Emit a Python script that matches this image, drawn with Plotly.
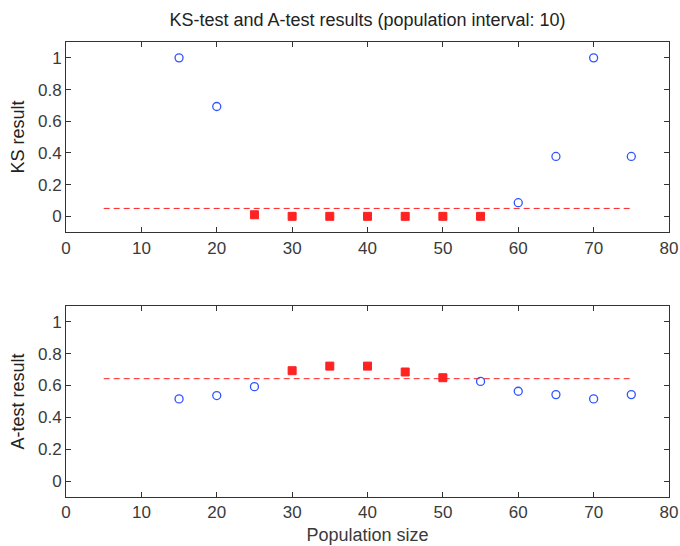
import plotly.graph_objects as go

# Data
ks_sig_x = [25, 30, 35, 40, 45, 50, 55]
ks_sig_y = [0.01, 0.0, 0.0, 0.0, 0.0, 0.0, 0.0]
ks_ns_x = [15, 20, 60, 65, 70, 75]
ks_ns_y = [1.0, 0.693, 0.086, 0.378, 1.0, 0.378]
ks_thresh_x = [5, 75]
ks_thresh_y = [0.05, 0.05]

a_sig_x = [30, 35, 40, 45, 50]
a_sig_y = [0.693, 0.722, 0.722, 0.685, 0.649]
a_ns_x = [15, 20, 25, 55, 60, 65, 70, 75]
a_ns_y = [0.516, 0.537, 0.593, 0.626, 0.564, 0.543, 0.516, 0.543]
a_thresh_x = [5, 75]
a_thresh_y = [0.643, 0.643]

x_ticks = [0, 10, 20, 30, 40, 50, 60, 70, 80]
y_ticks = [0, 0.2, 0.4, 0.6, 0.8, 1]
y_tick_text = ["0", "0.2", "0.4", "0.6", "0.8", "1"]

BLUE = "#2f55ff"
RED = "#ff2222"
FONT = "Liberation Sans"

fig = go.Figure()

def add_panel(xa, ya, thx, thy, nsx, nsy, sx, sy):
    fig.add_trace(go.Scatter(x=thx, y=thy, mode="lines", xaxis=xa, yaxis=ya,
                             line=dict(color=RED, width=1, dash="6px,4px"),
                             showlegend=False, hoverinfo="skip"))
    fig.add_trace(go.Scatter(x=nsx, y=nsy, mode="markers", xaxis=xa, yaxis=ya,
                             marker=dict(symbol="circle-open", size=8, color=BLUE,
                                         line=dict(width=1.3, color=BLUE)),
                             showlegend=False))
    fig.add_trace(go.Scatter(x=sx, y=sy, mode="markers", xaxis=xa, yaxis=ya,
                             marker=dict(symbol="square", size=8, color=RED,
                                         line=dict(width=1, color=RED)),
                             showlegend=False))

add_panel("x", "y", ks_thresh_x, ks_thresh_y, ks_ns_x, ks_ns_y, ks_sig_x, ks_sig_y)
add_panel("x2", "y2", a_thresh_x, a_thresh_y, a_ns_x, a_ns_y, a_sig_x, a_sig_y)

axis_common = dict(showline=True, linecolor="#333333", linewidth=1, mirror="ticks",
                   ticks="inside", ticklen=5, tickcolor="#333333", showgrid=False,
                   zeroline=False, automargin=False,
                   tickfont=dict(family=FONT, size=17, color="#3a3a3a"))

fig.update_layout(
    width=680, height=546,
    margin=dict(l=66, r=11, t=42, b=49),
    paper_bgcolor="white", plot_bgcolor="white",
    title=dict(text="KS-test and A-test results (population interval: 10)",
               x=0.5, xref="paper", y=1 - 20 / 546, yanchor="middle",
               font=dict(family=FONT, size=18, color="#222222")),
    xaxis=dict(domain=[0, 1], anchor="y", range=[0, 80], tickvals=x_ticks, **axis_common),
    yaxis=dict(domain=[0.582, 1], anchor="x", range=[-0.1, 1.1], tickvals=y_ticks,
               ticktext=y_tick_text,
               title=dict(text="KS result", font=dict(family=FONT, size=18, color="#222222"),
                          standoff=8),
               **axis_common),
    xaxis2=dict(domain=[0, 1], anchor="y2", range=[0, 80], tickvals=x_ticks,
                title=dict(text="Population size", font=dict(family=FONT, size=18, color="#3a3a3a"),
                           standoff=6),
                **axis_common),
    yaxis2=dict(domain=[0, 0.42], anchor="x2", range=[-0.1, 1.1], tickvals=y_ticks,
                ticktext=y_tick_text,
                title=dict(text="A-test result", font=dict(family=FONT, size=18, color="#222222"),
                           standoff=8),
                **axis_common),
)

fig.write_html("out.html", config={"displayModeBar": False},
               post_script="document.body.style.margin='0';document.body.style.overflow='hidden';")
